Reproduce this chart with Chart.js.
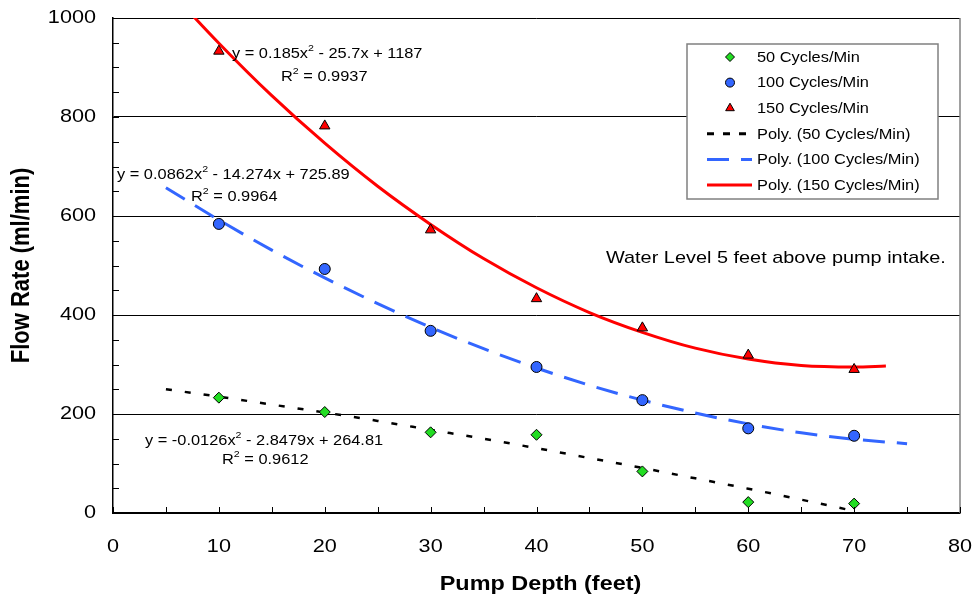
<!DOCTYPE html>
<html>
<head>
<meta charset="utf-8">
<script src="https://cdn.jsdelivr.net/npm/chart.js@4.4.1/dist/chart.umd.min.js"></script>
<style>
  html, body { margin: 0; padding: 0; background: #fff; }
  #wrap { width: 976px; height: 601px; }
</style>
</head>
<body>
<div id="wrap"><canvas id="chart" width="976" height="601"></canvas></div>
<script>
// Measured points
const pumpDepth = [10, 20, 30, 40, 50, 60, 70];
const flow50 = [233, 204, 163, 158, 84, 22, 19];
const flow100 = [584, 493, 368, 295, 228, 171, 156];
const flow150 = [933, 782, 572, 433, 374, 319, 290];

// Trendlines
const trendX50 = [5, 10, 15, 20, 25, 30, 35, 40, 45, 50, 55, 60, 65, 70];
const trend50 = [250, 235, 219, 203, 186, 168, 150, 131, 111, 91, 70, 49, 27, 4];
const trendX100 = [5, 10, 15, 20, 25, 30, 35, 40, 45, 50, 55, 60, 65, 70, 75];
const trend100 = [657, 592, 531, 475, 423, 375, 332, 293, 258, 228, 202, 180, 162, 149, 140];
const trendX150 = [5, 10, 15, 20, 25, 30, 35, 40, 45, 50, 55, 60, 65, 70, 73];
const trend150 = [1063, 949, 843, 747, 660, 583, 514, 455, 405, 365, 333, 311, 298, 295, 297];

const seriesLabels = ["50 Cycles/Min", "100 Cycles/Min", "150 Cycles/Min",
  "Poly. (50 Cycles/Min)", "Poly. (100 Cycles/Min)", "Poly. (150 Cycles/Min)"];

const xTitle = "Pump Depth (feet)";
const yTitle = "Flow Rate (ml/min)";

// Equation labels: [text, superscript, text] pieces
const eq150 = ["y = 0.185x", "2", " - 25.7x + 1187"];
const r150 = ["R", "2", " = 0.9937"];
const eq100 = ["y = 0.0862x", "2", " - 14.274x + 725.89"];
const r100 = ["R", "2", " = 0.9964"];
const eq50 = ["y = -0.0126x", "2", " - 2.8479x + 264.81"];
const r50 = ["R", "2", " = 0.9612"];
const noteText = "Water Level 5 feet above pump intake.";

const FONT = "'Liberation Sans', Arial, sans-serif";
const GREEN = "#22dd22";
const BLUE = "#3366ff";
const RED = "#ff0000";
const SX = 1.17; // text in the original is a bit wide

function pts(xs, ys) {
  return xs.map((x, i) => ({ x: x, y: ys[i] }));
}

// draw text stretched a little horizontally
function wideText(ctx, txt, x, y, font, align) {
  ctx.save();
  ctx.font = font;
  ctx.translate(x, y);
  ctx.scale(SX, 1);
  ctx.textAlign = align || "left";
  ctx.fillText(txt, 0, 0);
  ctx.restore();
}

function drawSup(ctx, parts, x, y, size) {
  ctx.save();
  ctx.translate(x, y);
  ctx.scale(SX, 1);
  ctx.textAlign = "left";
  let cx = 0;
  parts.forEach((p, i) => {
    if (i % 2 === 1) {
      ctx.font = (size * 0.65) + "px " + FONT;
      ctx.fillText(p, cx, -size * 0.4);
    } else {
      ctx.font = size + "px " + FONT;
      ctx.fillText(p, cx, 0);
    }
    cx += ctx.measureText(p).width;
  });
  ctx.restore();
}

const extras = {
  id: "extras",
  afterDraw(chart) {
    const ctx = chart.ctx;
    const a = chart.chartArea;
    const xs = chart.scales.x, ys = chart.scales.y;
    ctx.save();

    // right border
    ctx.strokeStyle = "#808080";
    ctx.lineWidth = 1.5;
    ctx.beginPath();
    ctx.moveTo(a.right, a.top);
    ctx.lineTo(a.right, a.bottom);
    ctx.stroke();

    // inside tick marks
    ctx.strokeStyle = "#000";
    ctx.lineWidth = 1;
    for (let v = 0; v <= 1000; v += 50) {
      const py = Math.round(ys.getPixelForValue(v)) + 0.5;
      ctx.beginPath();
      ctx.moveTo(a.left, py);
      ctx.lineTo(a.left + 6, py);
      ctx.stroke();
    }
    for (let v = 0; v <= 80; v += 5) {
      const px = Math.round(xs.getPixelForValue(v)) + 0.5;
      ctx.beginPath();
      ctx.moveTo(px, a.bottom);
      ctx.lineTo(px, a.bottom - 6);
      ctx.stroke();
    }

    // tick labels from the scales
    ctx.fillStyle = "#000";
    ctx.textBaseline = "middle";
    const tickFont = "18.5px " + FONT;
    ys.ticks.forEach(t => {
      wideText(ctx, String(t.value), a.left - 17, ys.getPixelForValue(t.value), tickFont, "right");
    });
    xs.ticks.forEach(t => {
      wideText(ctx, String(t.value), xs.getPixelForValue(t.value), a.bottom + 34, tickFont, "center");
    });

    // axis titles
    const titleFont = "bold 20px " + FONT;
    wideText(ctx, xTitle, (a.left + a.right) / 2 + 4, 584, titleFont, "center");
    ctx.save();
    ctx.translate(22, (a.top + a.bottom) / 2);
    ctx.scale(SX, 1);
    ctx.rotate(-Math.PI / 2);
    ctx.font = "bold 22px " + FONT;
    ctx.textAlign = "center";
    ctx.fillText(yTitle, 0, 0);
    ctx.restore();

    // equations
    drawSup(ctx, eq150, 232, 54, 14);
    drawSup(ctx, r150, 281, 77, 14);
    drawSup(ctx, eq100, 117, 175, 14);
    drawSup(ctx, r100, 191, 197, 14);
    drawSup(ctx, eq50, 145, 441, 14);
    drawSup(ctx, r50, 222, 460, 14);
    wideText(ctx, noteText, 606, 258, "17px " + FONT, "left");

    // legend
    const lx = 687, ly = 44, lw = 251, lh = 155;
    ctx.fillStyle = "#fff";
    ctx.fillRect(lx, ly, lw, lh);
    ctx.strokeStyle = "#808080";
    ctx.lineWidth = 1.5;
    ctx.strokeRect(lx, ly, lw, lh);
    const rowH = 25.6;
    chart.data.datasets.forEach((ds, i) => {
      const ry = ly + 13 + i * rowH;
      const sx = lx + 43;
      if (i < 3) {
        ctx.fillStyle = ds.backgroundColor;
        ctx.strokeStyle = "#000";
        ctx.lineWidth = 1;
        Chart.helpers.drawPoint(ctx, { pointStyle: ds.pointStyle, radius: ds.pointRadius - 1, borderWidth: 1 }, sx, ry);
      } else {
        ctx.strokeStyle = ds.borderColor;
        ctx.lineWidth = 3;
        ctx.setLineDash(i === 3 ? [7, 9] : i === 4 ? [22, 12] : []);
        ctx.beginPath();
        ctx.moveTo(lx + 20, ry);
        ctx.lineTo(lx + 65, ry);
        ctx.stroke();
        ctx.setLineDash([]);
      }
      ctx.fillStyle = "#000";
      wideText(ctx, ds.label, lx + 70, ry + 1, "14px " + FONT, "left");
    });
    ctx.restore();
  }
};

new Chart(document.getElementById("chart"), {
  type: "scatter",
  data: {
    datasets: [
      { label: seriesLabels[0], data: pts(pumpDepth, flow50), pointStyle: "rectRot", pointRadius: 5.5,
        backgroundColor: GREEN, borderColor: "#000", borderWidth: 1, order: 0 },
      { label: seriesLabels[1], data: pts(pumpDepth, flow100), pointStyle: "circle", pointRadius: 5.5,
        backgroundColor: BLUE, borderColor: "#000", borderWidth: 1, order: 0 },
      { label: seriesLabels[2], data: pts(pumpDepth, flow150), pointStyle: "triangle", pointRadius: 6,
        backgroundColor: RED, borderColor: "#000", borderWidth: 1, order: 0 },
      { label: seriesLabels[3], data: pts(trendX50, trend50), showLine: true, pointRadius: 0,
        borderColor: "#000", borderWidth: 2.5, borderDash: [6, 13], cubicInterpolationMode: "monotone", order: 1 },
      { label: seriesLabels[4], data: pts(trendX100, trend100), showLine: true, pointRadius: 0,
        borderColor: BLUE, borderWidth: 3, borderDash: [22, 12], cubicInterpolationMode: "monotone", order: 1 },
      { label: seriesLabels[5], data: pts(trendX150, trend150), showLine: true, pointRadius: 0,
        borderColor: RED, borderWidth: 3, cubicInterpolationMode: "monotone", order: 1 }
    ]
  },
  options: {
    responsive: false,
    animation: false,
    layout: { padding: { top: 18, right: 16, left: 0, bottom: 0 } },
    plugins: { legend: { display: false }, tooltip: { enabled: false } },
    scales: {
      x: {
        min: 0, max: 80,
        afterFit(s) { s.height = 88; },
        grid: { display: false, drawTicks: false },
        border: { display: true, color: "#000", width: 1.5 },
        ticks: { stepSize: 10, display: false }
      },
      y: {
        min: 0, max: 1000,
        afterFit(s) { s.width = 113; },
        grid: { color: "#000", lineWidth: 1, drawTicks: false },
        border: { display: true, color: "#000", width: 1.5 },
        ticks: { stepSize: 200, display: false }
      }
    }
  },
  plugins: [extras]
});
</script>
</body>
</html>
